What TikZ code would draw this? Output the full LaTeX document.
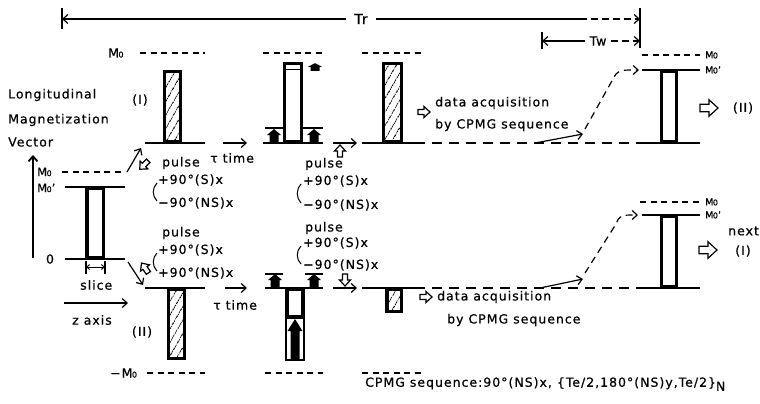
\documentclass[tikz,border=0pt]{standalone}
\usepackage{fontspec}
\setmainfont[LetterSpace=8,FakeBold=0.6]{DejaVu Sans}
\usetikzlibrary{arrows.meta,patterns.meta}

\newcommand{\mzero}{M\kern-0.5pt{\fontsize{8}{8}\selectfont 0}}
\newcommand{\mzerop}{M\kern-0.5pt{\fontsize{8}{8}\selectfont 0}'}

\tikzset{
  lbl/.style={inner sep=0pt, anchor=west, font=\fontsize{12.5}{14}\selectfont},
  tag/.style={inner sep=0pt, anchor=west, font=\fontsize{9.5}{10}\selectfont},
  base/.style={line width=2pt},
  lvl/.style={line width=1.5pt, dash pattern=on 6pt off 4.5pt},
  trail/.style={line width=1.6pt, dash pattern=on 10pt off 7pt},
  bar/.style={draw, line width=3.5pt, fill=white},
  hatched/.style={draw, line width=3.5pt, pattern={Lines[angle=60,distance=6.5pt,line width=0.9pt]}},
  flow/.style={line width=1.2pt, -{Straight Barb[length=5pt,width=9pt]}},
  dim/.style={line width=1.2pt},
  dimdash/.style={line width=1.2pt, dash pattern=on 7pt off 4pt},
  hollow/.pic={\draw[line width=1.2pt, fill=white] (-6,2.5) -- (0,2.5) -- (0,5.5) -- (6,0) -- (0,-5.5) -- (0,-2.5) -- (-6,-2.5) -- cycle;},
  blk/.pic={\fill (-4.5,0) -- (-4.5,-7) -- (-7,-7) -- (0,-13) -- (7,-7) -- (4.5,-7) -- (4.5,0) -- cycle;}
}

\begin{document}
\begin{tikzpicture}[x=1pt,y=-1pt]
\useasboundingbox (0,0) rectangle (760,404);

% repetition time and waiting time
\coordinate (trL) at (62,19);
\coordinate (trD) at (580,19);
\coordinate (trR) at (640,19);
\coordinate (twL) at (542,41);
\coordinate (twR) at (640,41);
\node[lbl, anchor=center, font=\fontsize{14}{16}\selectfont] (tr) at (361,19) {Tr};
\node[lbl, anchor=center] (tw) at (598,41) {Tw};
\draw[dim] (62,8) -- (62,29);
\draw[dim] (640,8) -- (640,48);
\draw[dim] (542,32) -- (542,49);
\draw[dim, -{Straight Barb[length=5pt,width=9pt]}] (tr.west) ++(-8,0) -- (trL);
\draw[dim] (tr.east) ++(8,0) -- (trD);
\draw[dimdash, -{Straight Barb[length=5pt,width=9pt]}] (trD) -- (trR);
\draw[dim, -{Straight Barb[length=5pt,width=9pt]}] (tw.west) ++(-4,0) -- (twL);
\draw[dimdash, -{Straight Barb[length=5pt,width=9pt]}] (tw.east) ++(4,0) -- (twR);

% left: initial state
\node[lbl] (lon) at (8,95) {Longitudinal};
\node[lbl] (mag) at (8,120) {Magnetization};
\node[lbl] (vec) at (8,142) {Vector};
\coordinate (axB) at (33,258);
\coordinate (axT) at (33,155);
\draw[line width=1.8pt, -{Straight Barb[length=5pt,width=9pt]}] (axB) -- (axT);
\node[lbl, font=\fontsize{11.5}{12}\selectfont] (m0a) at (37,172) {\mzero};
\node[lbl, font=\fontsize{11.5}{12}\selectfont] (m0pa) at (37,188) {\mzerop};
\node[lbl, anchor=center] (zero) at (50,259) {0};
\draw[lvl] (62,172) -- (125,172);
\draw[base] (65,187) -- (125,187);
\draw[base] (65,259) -- (125,259);
\draw[bar] (87,188.5) rectangle (103.5,258);
\draw[dim] (86,261) -- (86,274);
\draw[dim] (105,261) -- (105,274);
\coordinate (slL) at (86,267);
\coordinate (slR) at (105,267);
\draw[line width=0.9pt, {Straight Barb[length=3pt,width=5pt]}-{Straight Barb[length=3pt,width=5pt]}] (slL) -- (slR);
\node[lbl] (slice) at (80,285) {slice};
\coordinate (zL) at (64,303);
\coordinate (zR) at (128,303);
\draw[flow] (zL) -- (zR);
\node[lbl] (zax) at (72,320) {z axis};
\coordinate (upS) at (127,172);
\coordinate (upE) at (141,148);
\draw[flow] (upS) -- (upE);
\coordinate (dnS) at (128,262);
\coordinate (dnE) at (143,285);
\draw[flow] (dnS) -- (dnE);
\pic[rotate=-135] at (144,165) {hollow};
\pic[rotate=125] at (145,268) {hollow};

% row (I): first pulse
\node[lbl] (mu1) at (108,53) {\mzero};
\draw[lvl] (140,53) -- (205,53);
\draw[base] (145,143) -- (205,143);
\draw[hatched] (164.5,71.5) rectangle (180.5,142);
\node[lbl, anchor=center] (one) at (140,100) {(I)};
\node[lbl] (pu1) at (162,163) {pulse};
\node[lbl] (pu1a) at (158,180) {+90°(S)x};
\node[lbl] (pu1b) at (158,203) {−90°(NS)x};
\draw[line width=1pt] (157,183) .. controls (152,188) and (152,196) .. (157,201);
\coordinate (t1S) at (223,143);
\coordinate (t1E) at (247,143);
\draw[flow] (t1S) -- (t1E);
\node[lbl] (tau1) at (210,158) {τ time};

% row (I): after tau
\draw[lvl] (263,53) -- (323,53);
\draw[base] (263,143) -- (323,143);
\draw[line width=1.4pt] (265,128) -- (283,128) (303,128) -- (323,128);
\pic at (274,142) {blk};
\pic at (314,142) {blk};
\pic[yscale=0.6] at (315,71) {blk};
\draw[bar] (284.5,63.5) rectangle (301.5,142);
\draw[line width=0.9pt] (286,69) -- (300,69);
\node[lbl] (pu2) at (305,164) {pulse};
\node[lbl] (pu2a) at (303,181) {+90°(S)x};
\node[lbl] (pu2b) at (303,205) {−90°(NS)x};
\draw[line width=1pt] (301,184) .. controls (296,189) and (296,198) .. (301,203);
\pic[rotate=90] at (340,151) {hollow};
\coordinate (t2S) at (333,143);
\coordinate (t2E) at (357,143);
\draw[flow] (t2S) -- (t2E);

% row (I): acquisition and recovery
\draw[lvl] (362,53) -- (425,53);
\draw[base] (362,143) -- (425,143);
\draw[hatched] (383.5,63.5) rectangle (401.5,142);
\pic at (424,112) {hollow};
\node[lbl] (acq1) at (435,103) {data acquisition};
\node[lbl] (cpmg1) at (435,125) {by CPMG sequence};
\draw[trail] (432,143) -- (640,143);
\coordinate (r1S) at (535,143);
\coordinate (r1E) at (583,134);
\draw[flow] (r1S) -- (r1E);
\coordinate (c1S) at (585,129);
\coordinate (c1E) at (639,70);
\draw[line width=1.2pt, dash pattern=on 7pt off 5pt, -{Straight Barb[length=5pt,width=9pt]}] (c1S) -- (613,79) .. controls (618,70) .. (c1E);
\draw[base] (640,143) -- (700,143);
\draw[lvl] (642,55) -- (700,55);
\draw[base] (642,70) -- (700,70);
\draw[bar] (661.5,71.5) rectangle (676.5,142);
\node[tag] (mu3) at (705,55) {\mzero};
\node[tag] (mup3) at (705,70) {\mzerop};
\pic[scale=1.5] at (709,108) {hollow};
\node[lbl, anchor=center] (two1) at (743,108) {(II)};

% row (II): first pulse
\draw[base] (145,288) -- (205,288);
\draw[hatched] (168.5,289.5) rectangle (184.5,358.5);
\draw[lvl] (147,373) -- (205,373);
\node[lbl] (ml1) at (110,373) {−\mzero};
\node[lbl, anchor=center] (two) at (142,332) {(II)};
\node[lbl] (pl1) at (162,233) {pulse};
\node[lbl] (pl1a) at (158,250) {+90°(S)x};
\node[lbl] (pl1b) at (158,273) {+90°(NS)x};
\draw[line width=1pt] (157,253) .. controls (152,258) and (152,266) .. (157,271);
\coordinate (t3S) at (225,288);
\coordinate (t3E) at (247,288);
\draw[flow] (t3S) -- (t3E);
\node[lbl] (tau2) at (213,305) {τ time};

% row (II): after tau
\draw[base] (265,288) -- (323,288);
\draw[line width=1.4pt] (265,274) -- (283,274) (305,274) -- (323,274);
\pic at (275,287) {blk};
\pic at (314,287) {blk};
\draw[line width=1.4pt, fill=white] (286,318) rectangle (304,360);
\fill (290.5,360) -- (290.5,331) -- (287.5,331) -- (295,319) -- (302.5,331) -- (299.5,331) -- (299.5,360) -- cycle;
\draw[bar] (287,289.5) rectangle (303,317);
\draw[lvl] (265,373) -- (323,373);
\node[lbl] (pl2) at (305,228) {pulse};
\node[lbl] (pl2a) at (303,243) {+90°(S)x};
\node[lbl] (pl2b) at (303,265) {−90°(NS)x};
\draw[line width=1pt] (301,246) .. controls (296,251) and (296,259) .. (301,264);
\pic[rotate=-90] at (345,280) {hollow};
\coordinate (t4S) at (333,288);
\coordinate (t4E) at (357,288);
\draw[flow] (t4S) -- (t4E);

% row (II): acquisition and recovery
\draw[base] (362,288) -- (425,288);
\draw[hatched] (387,289.5) rectangle (401.5,311.5);
\draw[lvl] (362,373) -- (425,373);
\pic at (426,297) {hollow};
\node[lbl] (acq2) at (437,297) {data acquisition};
\node[lbl] (cpmg2) at (447,320) {by CPMG sequence};
\draw[trail] (432,288) -- (640,288);
\coordinate (r2S) at (540,288);
\coordinate (r2E) at (583,279);
\draw[flow] (r2S) -- (r2E);
\coordinate (c2S) at (585,273);
\coordinate (c2E) at (638,215);
\draw[line width=1.2pt, dash pattern=on 7pt off 5pt, -{Straight Barb[length=5pt,width=9pt]}] (c2S) -- (616,224) .. controls (620,215) .. (c2E);
\draw[base] (640,288) -- (700,288);
\draw[lvl] (640,202) -- (700,202);
\draw[base] (642,215) -- (700,215);
\draw[bar] (661.5,216.5) rectangle (676.5,287);
\node[tag] (mu4) at (705,202) {\mzero};
\node[tag] (mup4) at (705,215) {\mzerop};
\node[lbl] (next) at (728,231) {next};
\pic[scale=1.5] at (708,250) {hollow};
\node[lbl, anchor=center] (one2) at (743,251) {(I)};

% sequence
\node[lbl] (seq) at (365,384) {CPMG sequence:90°(NS)x, \{Te/2,180°(NS)y,Te/2\}\raisebox{-4pt}{N}};
\end{tikzpicture}
\end{document}
